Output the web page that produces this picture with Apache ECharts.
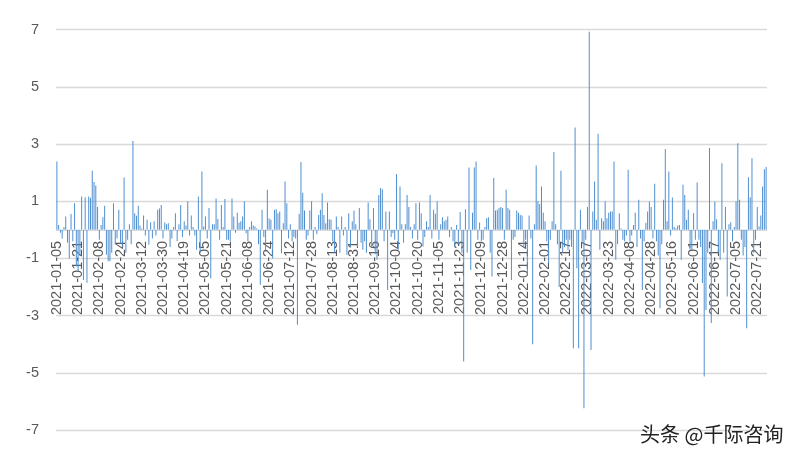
<!DOCTYPE html>
<html>
<head>
<meta charset="utf-8">
<script src="https://cdn.jsdelivr.net/npm/echarts@6/dist/echarts.min.js"></script>
<style>
html,body{margin:0;padding:0;background:#fff;}
#chart{width:800px;height:459px;}
</style>
</head>
<body>
<div id="chart"></div>
<script>
// Trading-day range and non-trading weekdays (category axis)
const startDate = '2021-01-05';
const endDate = '2022-07-28';
const holidays = ['2021-04-02','2021-04-05','2021-12-24','2021-12-31','2022-04-15','2022-04-18'];

// Daily values, 2021
const values2021 = [
  2.39, 0.17, -0.1, -0.3, 0.1, 0.47, -0.45, -1.0, 0.55, -0.4,
  0.93, -1.28, -1.46, -0.9, 1.17, -1.75, 1.14, -1.85, 1.17, 1.12,
  2.07, 1.67, 1.55, 0.8, -0.35, 0.17, 0.44, 0.84, -0.87, -1.1,
  -1.1, -0.8, 0.93, -0.5, -0.3, 0.7, -0.45, -0.6, 1.83, -0.8,
  -0.35, 0.2, -0.5, 3.11, 0.58, 0.49, 0.84, 0.15, 0.05, 0.5,
  -0.2, 0.35, -0.52, 0.27, -0.3, 0.3, -0.2, 0.7, 0.75, 0.87,
  -0.3, 0.26, 0.2, 0.23, -0.6, -0.3, 0.1, 0.58, -0.4, 0.2,
  0.87, -0.25, 0.3, 0.15, 1.0, -0.2, 0.5, 0.1, -0.2, -0.7,
  1.17, -0.8, 2.04, 0.12, 0.47, -0.3, 0.76, -1.69, 0.2, 0.2,
  1.1, 0.38, -0.35, 0.87, 0.1, 1.08, -0.35, -0.35, -0.4, 1.1,
  0.47, -0.1, 0.6, 0.25, 0.3, 0.47, 1.0, -0.12, -0.4, 0.1,
  0.3, 0.15, 0.12, 0.05, -0.5, -1.92, 0.7, -0.25, -0.7, 1.4,
  0.4, 0.35, -1.0, 0.7, 0.72, 0.58, 0.64, -0.82, 0.23, 1.69,
  0.93, -0.3, 0.2, -0.4, -0.25, -0.3, -3.32, 0.56, 2.37, 1.3,
  0.68, -0.35, -0.2, 0.68, 1.0, -0.35, 0.1, -0.15, 0.52, 0.7,
  1.28, 0.52, 0.23, 0.96, 0.37, 0.35, -0.4, -0.8, 0.47, 0.1,
  -0.8, 0.47, -0.2, 0.1, -0.87, 0.58, -0.6, 0.3, 0.68, 0.2,
  -0.6, 0.76, -0.45, -0.7, -0.4, -0.8, 0.96, 0.37, -0.6, 0.76,
  -0.85, -1.05, 1.22, 1.46, 1.42, -0.4, 0.64, -2.1, 0.64, -0.25,
  -0.12, -0.35, 1.95, -0.7, 1.52, 0.2, -0.45, 0.2, 1.22, 0.8,
  0.1, -0.3, 0.2, 0.93, -0.35, 0.96, 0.58, -0.58, -0.25, 0.3,
  0.1, 1.22, -0.3, 0.7, 0.56, 1.0, -0.35, 0.2, 0.44, 0.3,
  0.35, 0.47, -0.25, 0.1, -0.4, -0.6, 0.17, -0.5, 0.62, -0.8,
  -4.6, 0.72, -0.8, 2.18, -1.4, 0.6, 2.18, 2.39, -0.35, 0.26,
  -0.4, -0.35, 0.1, 0.41, 0.44, -0.8, -1.63, 1.81, 0.68, 0.7,
  0.76, 0.8, 0.76, -0.35, 1.4
];

// Daily values, 2022
const values2022 = [
  0.76, 0.7, -1.75, -0.35, -0.25,
  0.68, 0.6, 0.52, 0.5, -0.6, -0.35, -1.6, 0.5, -0.3, -4.0,
  0.2, 2.25, 1.0, 0.9, 1.52, 0.6, 0.3, -0.4, -1.17, -0.35,
  0.3, 2.72, 0.2, -0.5, -2.0, 2.07, -0.8, -0.6, -0.35, -0.7,
  -0.35, -0.6, -4.14, 3.58, -1.34, -4.14, 0.7, -0.4, -6.24, -0.35,
  0.8, 6.93, -4.2, 0.64, 1.69, 0.35, 3.36, -0.7, 0.41, 0.3,
  1.0, 0.41, 0.6, 0.64, 0.64, 2.39, -1.05, -0.5, 0.58, 0.05,
  -0.35, -0.4, -0.2, 2.1, -0.4, -0.2, 0.17, 0.6, -0.6, 1.05,
  -0.3, -2.1, -0.4, 0.25, 0.64, 0.99, 0.8, -0.3, 1.61, -0.4,
  -0.9, -2.74, -0.5, 1.05, 2.83, 0.3, 2.04, -0.2, 1.13, 0.1,
  0.06, 0.15, 0.17, -1.05, 1.58, 1.22, 0.35, 0.7, -0.7, -0.7,
  0.58, -0.35, 1.66, -0.35, -0.6, -1.86, -5.13, -2.8, -0.8, 2.86,
  -3.26, 0.3, 0.99, 0.37, -0.8, -1.05, 2.33, -0.8, 0.8, -2.33,
  0.2, 0.27, -0.4, 0.1, 1.0, 3.03, 1.05, -0.35, -0.9, -0.6,
  -3.44, 1.84, 1.14, 2.5, -0.8, -0.35, 0.8, 0.12, 0.5, 1.52,
  2.12, 2.2
];

const yTicks = { min: -7, max: 7, interval: 2 };
const watermark = '头条 @千际咨询';

function buildDates(start, end, skip) {
  const out = [];
  const d = new Date(start + 'T00:00:00Z');
  const e = new Date(end + 'T00:00:00Z');
  while (d <= e) {
    const wd = d.getUTCDay();
    const s = d.toISOString().slice(0, 10);
    if (wd !== 0 && wd !== 6 && skip.indexOf(s) < 0) out.push(s);
    d.setUTCDate(d.getUTCDate() + 1);
  }
  return out;
}

const dates = buildDates(startDate, endDate, holidays);
const values = values2021.concat(values2022);

const W = 800, H = 459;
const grid = { left: 56, right: 33, top: 29.7, bottom: 29 };
const gridH = H - grid.top - grid.bottom;
// move the category axis (line + labels) up to the value 0 position
const zeroOffset = -gridH * (0 - yTicks.min) / (yTicks.max - yTicks.min);

const chart = echarts.init(document.getElementById('chart'), null, { renderer: 'canvas', width: W, height: H });
const fontFam = '"Liberation Sans", Arial, sans-serif';
chart.setOption({
  animation: false,
  backgroundColor: '#ffffff',
  grid: Object.assign({ outerBoundsMode: 'none', containLabel: false }, grid),
  xAxis: {
    type: 'category',
    data: dates,
    boundaryGap: true,
    offset: zeroOffset,
    axisLine: { show: true, onZero: false, lineStyle: { color: '#d9d9d9', width: 1 } },
    axisTick: { show: false },
    axisLabel: {
      interval: 11,
      rotate: 90,
      margin: 11,
      fontSize: 14.5,
      color: '#595959',
      fontFamily: fontFam
    },
    splitLine: { show: false }
  },
  yAxis: {
    type: 'value',
    min: yTicks.min,
    max: yTicks.max,
    interval: yTicks.interval,
    axisLine: { show: false },
    axisTick: { show: false },
    axisLabel: { fontSize: 14.5, color: '#595959', fontFamily: fontFam, margin: 17 },
    splitLine: { show: true, lineStyle: { color: '#d9d9d9', width: 1.3 } }
  },
  series: [{
    type: 'bar',
    data: values,
    barWidth: 1,
    z: 1,
    itemStyle: { color: '#4f8fd0' },
    emphasis: { disabled: true }
  }],
  graphic: [{
    type: 'text',
    left: 640,
    top: 424,
    z: 100,
    style: {
      text: watermark,
      fontSize: 20,
      fill: '#222222',
      fontFamily: '"Noto Sans CJK SC", sans-serif'
    }
  }]
});
</script>
</body>
</html>
